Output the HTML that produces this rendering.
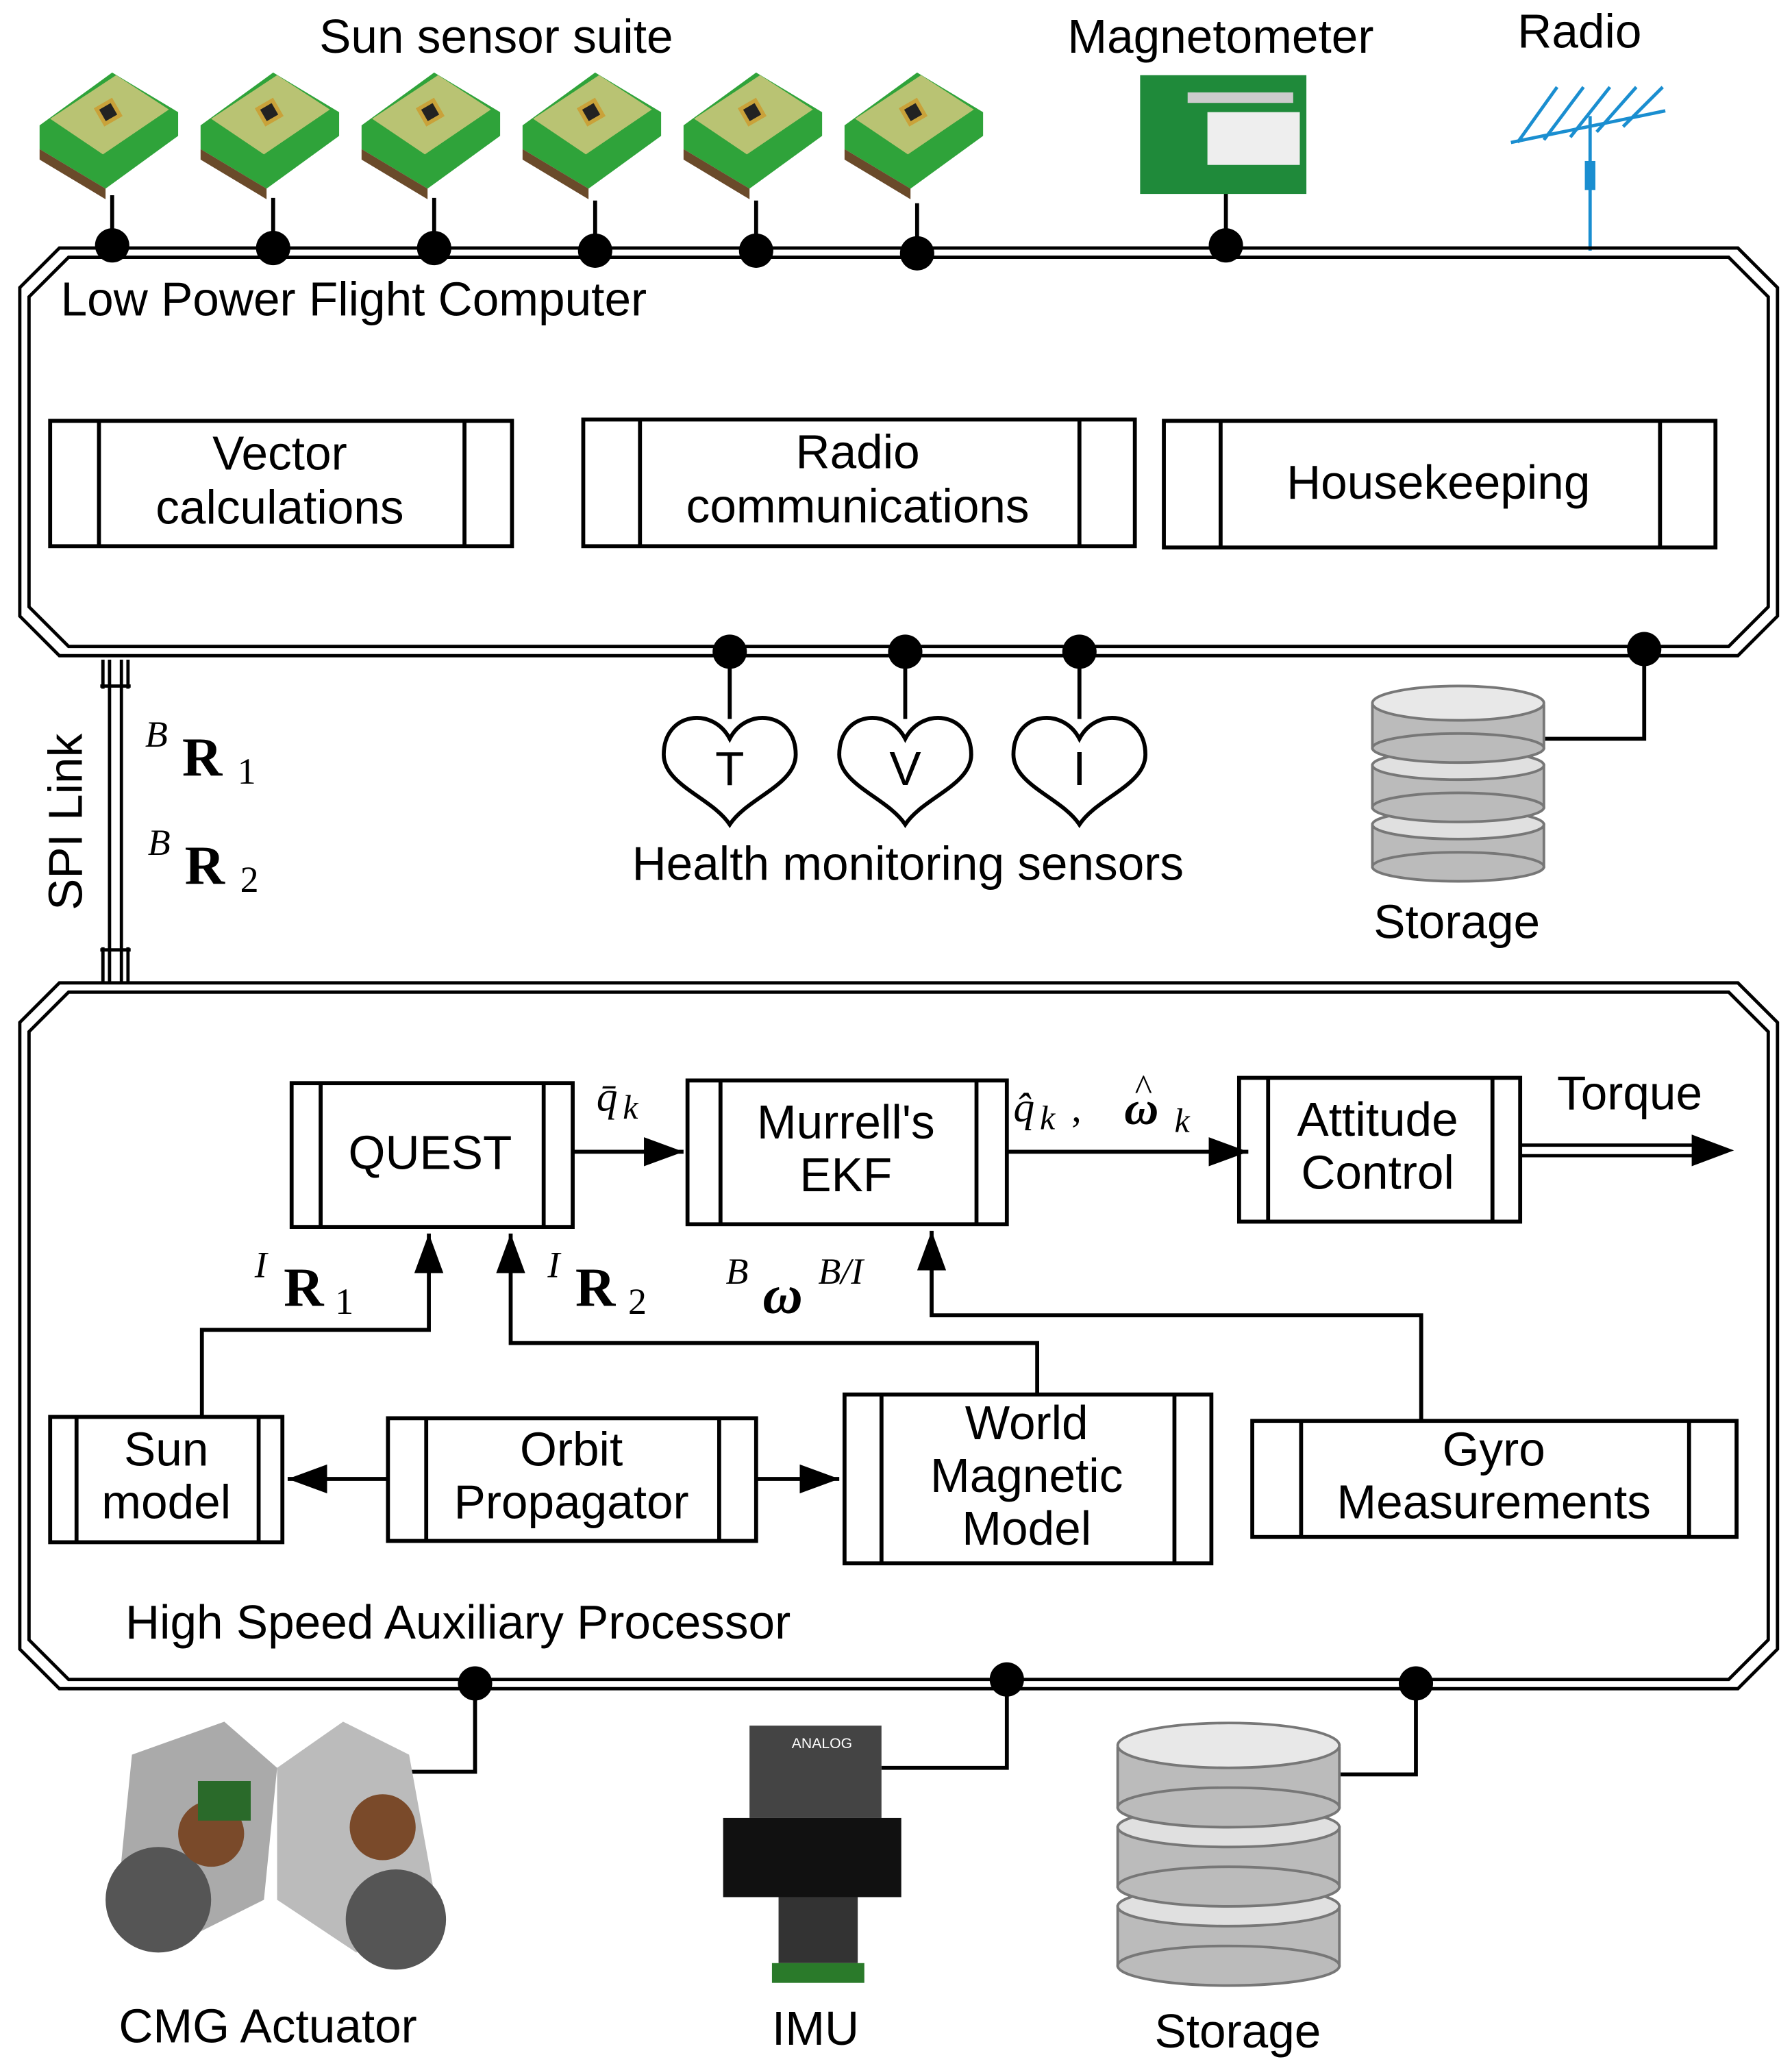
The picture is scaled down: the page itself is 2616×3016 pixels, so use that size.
<!DOCTYPE html>
<html><head><meta charset="utf-8"><style>
html,body{margin:0;padding:0;background:#fff}
svg{display:block}
text{font-family:"Liberation Sans",sans-serif;fill:#000}
.m{font-family:"Liberation Serif",serif}
</style></head><body>
<svg width="2616" height="3016" viewBox="0 0 1358 1566" preserveAspectRatio="none" xmlns="http://www.w3.org/2000/svg">
<defs>
<g id="ss">
<polygon points="0,40 55,0 105,30 105,48 50,88 0,58" fill="#2fa33a"/>
<polygon points="8,35 58,2 98,28 48,62" fill="#c9c77a" opacity="0.9"/>
<polygon points="0,58 50,88 50,96 0,66" fill="#6a4a2a"/>
<rect x="44" y="22" width="16" height="16" fill="#c9a23a" transform="rotate(-30 52 30)"/>
<rect x="47" y="25" width="10" height="10" fill="#222" transform="rotate(-30 52 30)"/>
</g>
</defs>
<marker id="a2" viewBox="0 0 10 10" markerWidth="30" markerHeight="22" refX="10" refY="5" orient="auto" markerUnits="userSpaceOnUse" preserveAspectRatio="none"><path d="M0,0 L10,5 L0,10 z"/></marker>

<text x="376" y="40" font-size="36" text-anchor="middle">Sun sensor suite</text>
<use href="#ss" x="30" y="55"/><use href="#ss" x="152" y="55"/><use href="#ss" x="274" y="55"/>
<use href="#ss" x="396" y="55"/><use href="#ss" x="518" y="55"/><use href="#ss" x="640" y="55"/>
<g stroke="#000" stroke-width="3">
<line x1="85" y1="148" x2="85" y2="186"/><line x1="207" y1="150" x2="207" y2="186"/><line x1="329" y1="150" x2="329" y2="186"/>
<line x1="451" y1="152" x2="451" y2="186"/><line x1="573" y1="152" x2="573" y2="186"/><line x1="695" y1="154" x2="695" y2="186"/>
<line x1="929" y1="146" x2="929" y2="186"/>
</g>
<text x="925" y="40" font-size="36" text-anchor="middle">Magnetometer</text>
<rect x="864" y="57" width="126" height="90" fill="#1f8a3a"/>
<rect x="915" y="85" width="70" height="40" fill="#eee"/>
<rect x="900" y="70" width="80" height="8" fill="#ccc"/>
<text x="1197" y="36" font-size="36" text-anchor="middle">Radio</text>
<g stroke="#1a8ed0" stroke-width="2.5">
<line x1="1145" y1="108" x2="1262" y2="84"/>
<line x1="1150" y1="108" x2="1180" y2="66"/><line x1="1170" y1="106" x2="1200" y2="66"/><line x1="1190" y1="104" x2="1220" y2="66"/><line x1="1210" y1="100" x2="1240" y2="66"/><line x1="1230" y1="96" x2="1260" y2="66"/>
<line x1="1205" y1="88" x2="1205" y2="190"/>
</g>
<rect x="1201" y="122" width="8" height="22" fill="#1a8ed0"/>

<g fill="none" stroke="#000" stroke-width="2.5">
<polygon points="45,188 1317,188 1347,218 1347,467 1317,497 45,497 15,467 15,218"/>
<polygon points="52,195 1310,195 1340,225 1340,460 1310,490 52,490 22,460 22,225"/>
</g>
<g fill="#000">
<circle cx="85" cy="186" r="13"/><circle cx="207" cy="188" r="13"/><circle cx="329" cy="188" r="13"/><circle cx="451" cy="190" r="13"/><circle cx="573" cy="190" r="13"/><circle cx="695" cy="192" r="13"/><circle cx="929" cy="186" r="13"/>
</g>
<text x="46" y="239" font-size="36">Low Power Flight Computer</text>
<g fill="none" stroke="#000" stroke-width="3">
<rect x="38" y="319" width="350" height="95"/><line x1="75" y1="319" x2="75" y2="414"/><line x1="352" y1="319" x2="352" y2="414"/>
<rect x="442" y="318" width="418" height="96"/><line x1="485" y1="318" x2="485" y2="414"/><line x1="818" y1="318" x2="818" y2="414"/>
<rect x="882" y="319" width="418" height="96"/><line x1="925" y1="319" x2="925" y2="415"/><line x1="1258" y1="319" x2="1258" y2="415"/>
</g>
<text font-size="36" text-anchor="middle"><tspan x="212" y="356">Vector</tspan><tspan x="212" y="397">calculations</tspan></text>
<text font-size="36" text-anchor="middle"><tspan x="650" y="355">Radio</tspan><tspan x="650" y="396">communications</tspan></text>
<text x="1090" y="378" font-size="36" text-anchor="middle">Housekeeping</text>

<g stroke="#000" stroke-width="3" fill="none">
<line x1="553" y1="494" x2="553" y2="545"/><line x1="686" y1="494" x2="686" y2="545"/><line x1="818" y1="494" x2="818" y2="545"/>
<path d="M553,560 C540,535 503,540 503,572 C503,595 540,605 553,625 C566,605 603,595 603,572 C603,540 566,535 553,560 Z"/>
<path d="M686,560 C673,535 636,540 636,572 C636,595 673,605 686,625 C699,605 736,595 736,572 C736,540 699,535 686,560 Z"/>
<path d="M818,560 C805,535 768,540 768,572 C768,595 805,605 818,625 C831,605 868,595 868,572 C868,540 831,535 818,560 Z"/>
<polyline points="1170,560 1246,560 1246,494"/>
</g>
<g fill="#000"><circle cx="553" cy="494" r="13"/><circle cx="686" cy="494" r="13"/><circle cx="818" cy="494" r="13"/><circle cx="1246" cy="492" r="13"/></g>
<text font-size="36" text-anchor="middle"><tspan x="553" y="595">T</tspan><tspan x="686" y="595">V</tspan><tspan x="818" y="595">I</tspan></text>
<text x="688" y="667" font-size="36" text-anchor="middle">Health monitoring sensors</text>
<g stroke="#777" stroke-width="2">
<rect x="1040" y="625" width="130" height="32" fill="#bbb"/><ellipse cx="1105" cy="657" rx="65" ry="11" fill="#bbb"/><ellipse cx="1105" cy="625" rx="65" ry="11" fill="#e0e0e0"/>
<rect x="1040" y="580" width="130" height="32" fill="#bbb"/><ellipse cx="1105" cy="612" rx="65" ry="11" fill="#bbb"/><ellipse cx="1105" cy="580" rx="65" ry="11" fill="#e0e0e0"/>
<rect x="1040" y="535" width="130" height="32" fill="#bbb"/><ellipse cx="1105" cy="567" rx="65" ry="11" fill="#bbb"/><ellipse cx="1105" cy="533" rx="65" ry="13" fill="#e8e8e8"/>
</g>
<text x="1104" y="711" font-size="36" text-anchor="middle">Storage</text>

<g stroke="#000" stroke-width="2.5" fill="none">
<line x1="83" y1="500" x2="83" y2="745"/><line x1="92" y1="500" x2="92" y2="745"/>
<line x1="76" y1="520" x2="99" y2="520"/><line x1="76" y1="720" x2="99" y2="720"/>
<line x1="78" y1="500" x2="78" y2="522"/><line x1="97" y1="500" x2="97" y2="522"/>
<line x1="78" y1="718" x2="78" y2="745"/><line x1="97" y1="718" x2="97" y2="745"/>
</g>
<text transform="translate(62,690) rotate(-90)" font-size="36">SPI Link</text>
<text class="m" x="110" y="566" font-size="28" font-style="italic">B</text><text class="m" x="138" y="588" font-size="42" font-weight="bold">R</text><text class="m" x="180" y="594" font-size="28">1</text>
<text class="m" x="112" y="648" font-size="28" font-style="italic">B</text><text class="m" x="140" y="670" font-size="42" font-weight="bold">R</text><text class="m" x="182" y="676" font-size="28">2</text>

<g fill="none" stroke="#000" stroke-width="2.5">
<polygon points="45,745 1317,745 1347,775 1347,1250 1317,1280 45,1280 15,1250 15,775"/>
<polygon points="52,752 1310,752 1340,782 1340,1243 1310,1273 52,1273 22,1243 22,782"/>
</g>
<g fill="none" stroke="#000" stroke-width="3">
<rect x="221" y="821" width="213" height="109"/><line x1="243" y1="821" x2="243" y2="930"/><line x1="412" y1="821" x2="412" y2="930"/>
<rect x="521" y="819" width="242" height="109"/><line x1="546" y1="819" x2="546" y2="928"/><line x1="740" y1="819" x2="740" y2="928"/>
<rect x="939" y="817" width="213" height="109"/><line x1="961" y1="817" x2="961" y2="926"/><line x1="1131" y1="817" x2="1131" y2="926"/>
<rect x="38" y="1074" width="176" height="95"/><line x1="58" y1="1074" x2="58" y2="1169"/><line x1="196" y1="1074" x2="196" y2="1169"/>
<rect x="294" y="1075" width="279" height="93"/><line x1="323" y1="1075" x2="323" y2="1168"/><line x1="545" y1="1075" x2="545" y2="1168"/>
<rect x="640" y="1057" width="278" height="128"/><line x1="668" y1="1057" x2="668" y2="1185"/><line x1="890" y1="1057" x2="890" y2="1185"/>
<rect x="949" y="1077" width="367" height="88"/><line x1="986" y1="1077" x2="986" y2="1165"/><line x1="1280" y1="1077" x2="1280" y2="1165"/>
</g>
<text x="326" y="886" font-size="36" text-anchor="middle">QUEST</text>
<text font-size="36" text-anchor="middle"><tspan x="641" y="863">Murrell's</tspan><tspan x="641" y="903">EKF</tspan></text>
<text font-size="36" text-anchor="middle"><tspan x="1044" y="861">Attitude</tspan><tspan x="1044" y="901">Control</tspan></text>
<text font-size="36" text-anchor="middle"><tspan x="126" y="1111">Sun</tspan><tspan x="126" y="1151">model</tspan></text>
<text font-size="36" text-anchor="middle"><tspan x="433" y="1111">Orbit</tspan><tspan x="433" y="1151">Propagator</tspan></text>
<text font-size="36" text-anchor="middle"><tspan x="778" y="1091">World</tspan><tspan x="778" y="1131">Magnetic</tspan><tspan x="778" y="1171">Model</tspan></text>
<text font-size="36" text-anchor="middle"><tspan x="1132" y="1111">Gyro</tspan><tspan x="1132" y="1151">Measurements</tspan></text>
<g fill="none" stroke="#000" stroke-width="3">
<line x1="434" y1="873" x2="518" y2="873" marker-end="url(#a2)"/>
<line x1="763" y1="873" x2="946" y2="873" marker-end="url(#a2)"/>
<polyline points="153,1073 153,1008 325,1008 325,935" marker-end="url(#a2)"/>
<polyline points="786,1057 786,1018 387,1018 387,935" marker-end="url(#a2)"/>
<polyline points="1077,1077 1077,997 706,997 706,933" marker-end="url(#a2)"/>
<line x1="294" y1="1121" x2="218" y2="1121" marker-end="url(#a2)"/>
<line x1="573" y1="1121" x2="636" y2="1121" marker-end="url(#a2)"/>
<line x1="1152" y1="868" x2="1290" y2="868" stroke-width="2.5"/><line x1="1152" y1="876" x2="1290" y2="876" stroke-width="2.5"/>
</g>
<path d="M1282,860 L1314,872 L1282,884 z"/>
<text x="1235" y="841" font-size="36" text-anchor="middle">Torque</text>
<text class="m" x="452" y="842" font-size="32" font-style="italic">q̄</text><text class="m" x="472" y="848" font-size="26" font-style="italic">k</text>
<text class="m" x="768" y="850" font-size="32" font-style="italic">q̂</text><text class="m" x="788" y="856" font-size="26" font-style="italic">k</text><text class="m" x="812" y="850" font-size="30">,</text>
<text class="m" x="852" y="852" font-size="36" font-weight="bold" font-style="italic">ω</text><text class="m" x="860" y="834" font-size="28">^</text><text class="m" x="890" y="858" font-size="26" font-style="italic">k</text>
<text class="m" x="193" y="968" font-size="28" font-style="italic">I</text><text class="m" x="215" y="990" font-size="42" font-weight="bold">R</text><text class="m" x="254" y="996" font-size="28">1</text>
<text class="m" x="415" y="968" font-size="28" font-style="italic">I</text><text class="m" x="436" y="990" font-size="42" font-weight="bold">R</text><text class="m" x="476" y="996" font-size="28">2</text>
<text class="m" x="550" y="973" font-size="28" font-style="italic">B</text><text class="m" x="578" y="995" font-size="42" font-weight="bold" font-style="italic">ω</text><text class="m" x="620" y="973" font-size="28" font-style="italic">B/I</text>
<text x="95" y="1242" font-size="36">High Speed Auxiliary Processor</text>

<g fill="none" stroke="#000" stroke-width="3">
<polyline points="360,1276 360,1343 300,1343"/>
<polyline points="763,1273 763,1340 668,1340"/>
<polyline points="1073,1276 1073,1345 1015,1345"/>
</g>
<g fill="#000"><circle cx="360" cy="1276" r="13"/><circle cx="763" cy="1273" r="13"/><circle cx="1073" cy="1276" r="13"/></g>
<g>
<polygon points="100,1330 170,1305 210,1340 200,1440 140,1470 90,1430" fill="#aaa"/>
<polygon points="210,1340 260,1305 310,1330 330,1440 270,1480 210,1440" fill="#bbb"/>
<ellipse cx="120" cy="1440" rx="40" ry="40" fill="#555"/>
<ellipse cx="300" cy="1455" rx="38" ry="38" fill="#555"/>
<circle cx="160" cy="1390" r="25" fill="#7a4a2a"/><circle cx="290" cy="1385" r="25" fill="#7a4a2a"/>
<rect x="150" y="1350" width="40" height="30" fill="#2a6a2a"/>
</g>
<text x="203" y="1548" font-size="36" text-anchor="middle">CMG Actuator</text>
<rect x="568" y="1308" width="100" height="70" fill="#444"/>
<rect x="548" y="1378" width="135" height="60" fill="#111"/>
<rect x="590" y="1438" width="60" height="50" fill="#333"/>
<rect x="585" y="1488" width="70" height="15" fill="#2a7a2a"/>
<text x="600" y="1325" font-size="11" style="fill:#fff">ANALOG</text>
<text x="618" y="1550" font-size="36" text-anchor="middle">IMU</text>
<g stroke="#777" stroke-width="2">
<rect x="847" y="1445" width="168" height="45" fill="#bbb"/><ellipse cx="931" cy="1490" rx="84" ry="15" fill="#bbb"/><ellipse cx="931" cy="1445" rx="84" ry="15" fill="#e0e0e0"/>
<rect x="847" y="1385" width="168" height="45" fill="#bbb"/><ellipse cx="931" cy="1430" rx="84" ry="15" fill="#bbb"/><ellipse cx="931" cy="1385" rx="84" ry="15" fill="#e0e0e0"/>
<rect x="847" y="1325" width="168" height="45" fill="#bbb"/><ellipse cx="931" cy="1370" rx="84" ry="15" fill="#bbb"/><ellipse cx="931" cy="1323" rx="84" ry="17" fill="#e8e8e8"/>
</g>
<text x="938" y="1552" font-size="36" text-anchor="middle">Storage</text>
</svg>
</body></html>
